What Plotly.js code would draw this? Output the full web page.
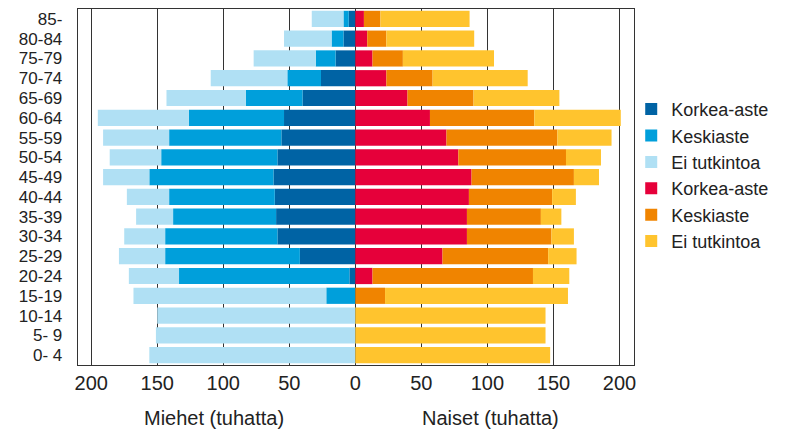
<!DOCTYPE html>
<html><head><meta charset="utf-8">
<script src="https://cdn.plot.ly/plotly-3.0.1.min.js"></script>
<style>html,body{margin:0;padding:0;background:#fff}#chart{width:788px;height:437px}</style>
</head><body><div id="chart"></div>
<script>
const ageGroups = ['0- 4','5- 9','10-14','15-19','20-24','25-29','30-34','35-39','40-44','45-49','50-54','55-59','60-64','65-69','70-74','75-79','80-84','85-'];
// Men (thousands), bottom (0-4) to top (85-)
const menKorkea = [0, 0, 0, 0, 4.5, 42, 59, 60, 61, 62, 59, 56, 54, 40, 26, 15, 9, 5];
const menKeski  = [0, 0, 0, 22, 129, 102, 85, 78, 80, 94, 88, 85, 72, 43, 25.5, 15, 9, 4];
const menEi     = [156, 151, 150, 146, 38, 35, 31, 28, 32, 35, 39, 50, 69, 60, 58, 47, 36, 24];
// Women (thousands)
const womenKorkea = [0, 0, 0, 0, 13, 66, 84.5, 84.5, 86, 88, 78, 69, 56.5, 39.5, 23.5, 13, 9, 6.5];
const womenKeski  = [0, 0, 0, 22.5, 121.5, 80, 64, 56, 63, 77.5, 81.5, 84, 79, 50, 35, 23, 14.5, 12.5];
const womenEi     = [147.5, 144, 144, 138.5, 27.5, 21.5, 17, 15.5, 18, 19, 26.5, 41, 65.5, 65, 72, 69, 66.5, 67.5];
const tickVals = [-200, -150, -100, -50, 0, 50, 100, 150, 200];
const tickText = ['200', '150', '100', '50', '0', '50', '100', '150', '200'];
const seriesNames = ['Korkea-aste', 'Keskiaste', 'Ei tutkintoa'];

const colors = ['#0063a4', '#009fdb', '#b0e0f4', '#e6003a', '#f08400', '#ffc42e'];
const neg = a => a.map(v => -v);
const menSeries = [menKorkea, menKeski, menEi];
const womenSeries = [womenKorkea, womenKeski, womenEi];
const traces = [];
menSeries.forEach((s, i) => traces.push({
  type: 'bar', orientation: 'h', y: ageGroups, x: neg(s), name: seriesNames[i],
  marker: {color: colors[i], line: {width: 0}}
}));
womenSeries.forEach((s, i) => traces.push({
  type: 'bar', orientation: 'h', y: ageGroups, x: s, name: seriesNames[i],
  marker: {color: colors[i + 3], line: {width: 0}}
}));

const fam = 'Liberation Sans, Arial, sans-serif';
const font = {family: fam, size: 20, color: '#222'};
const yFont = {family: fam, size: 17, color: '#222'};
const legendFont = {family: fam, size: 18, color: '#222'};
const layout = {
  width: 788, height: 437,
  margin: {l: 78, r: 154, t: 9, b: 72},
  barmode: 'relative', bargap: 0.18,
  font: font,
  paper_bgcolor: '#fff', plot_bgcolor: '#fff',
  showlegend: true,
  legend: {x: 0.995, xanchor: 'left', y: 0.77, yanchor: 'top', traceorder: 'normal',
           font: legendFont, bgcolor: 'rgba(0,0,0,0)', itemwidth: 30},
  xaxis: {range: [-210, 211], tickvals: tickVals, ticktext: tickText,
          showgrid: true, gridcolor: '#333', gridwidth: 1.3,
          zeroline: true, zerolinecolor: '#333', zerolinewidth: 1.3,
          showline: true, mirror: true, linecolor: '#333', linewidth: 1.3,
          ticks: '', tickfont: font, fixedrange: true},
  yaxis: {type: 'category', categoryorder: 'array', categoryarray: ageGroups,
          tickmode: 'array', tickvals: ageGroups,
          showline: true, mirror: true, linecolor: '#333', linewidth: 1.3,
          showgrid: false, ticks: 'outside', ticklen: 11, tickcolor: 'rgba(0,0,0,0)',
          tickfont: yFont, fixedrange: true},
  annotations: [
    {text: 'Miehet (tuhatta)', xref: 'x', x: -107, yref: 'paper', y: -0.15, yanchor: 'middle', showarrow: false, font: font},
    {text: 'Naiset (tuhatta)', xref: 'x', x: 102, yref: 'paper', y: -0.15, yanchor: 'middle', showarrow: false, font: font}
  ]
};
Plotly.newPlot('chart', traces, layout, {displayModeBar: false, staticPlot: true});
</script></body></html>
